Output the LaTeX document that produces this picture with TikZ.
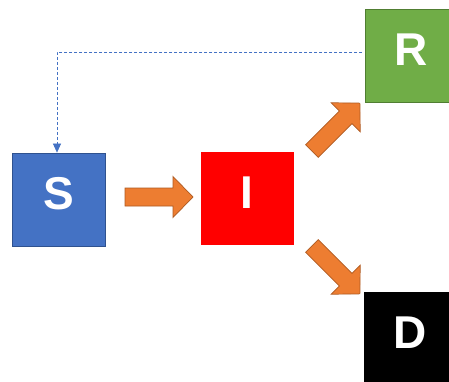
\documentclass[tikz,border=0pt]{standalone}
\usepackage{fontspec}
\setmainfont{Liberation Sans}
\usetikzlibrary{calc,arrows.meta}
\definecolor{sblue}{HTML}{4472C4}
\definecolor{sblueb}{HTML}{2F528F}
\definecolor{ired}{HTML}{FF0000}
\definecolor{rgreen}{HTML}{70AD47}
\definecolor{rgreenb}{HTML}{507E32}
\definecolor{aorange}{HTML}{ED7D31}
\definecolor{aorangeb}{HTML}{AE5A21}
\tikzset{
  box/.style={minimum width=93pt, minimum height=93pt, inner sep=0pt,
    text height=33pt, text depth=14pt, text=white,
    font=\fontsize{46}{46}\selectfont\bfseries, line width=0.8pt},
  blockarr/.style={fill=aorange, draw=aorangeb, line width=0.7pt, line join=miter},
  feedback/.style={draw=sblue, line width=0.6pt, dash pattern=on 3pt off 2pt,
    -{Triangle[width=8pt,length=9pt]}}
}
\newcommand{\blockarrow}[2]{%
  \path let \p1=($(#2)-(#1)$), \n1={atan2(\y1,\x1)}, \n2={veclen(\x1,\y1)} in
    [shift={(#1)}, rotate=\n1]
    [blockarr] (0pt,-9pt) -- ({\n2-20pt},-9pt) -- ({\n2-20pt},-20.5pt) -- (\n2,0pt)
    -- ({\n2-20pt},20.5pt) -- ({\n2-20pt},9pt) -- (0pt,9pt) -- cycle;%
}
\begin{document}
\begin{tikzpicture}[x=1pt,y=-1pt]
\clip (0,0) rectangle (449,382);
\fill[white] (0,0) rectangle (449,382);
\node[box, fill=sblue, draw=sblueb] (S) at (59,199.5) {S};
\node[box, fill=ired] (I) at (247,198.5) {I};
\node[box, fill=rgreen, draw=rgreenb] (R) at (411.5,56) {R};
\node[box, fill=black] (D) at (410.5,338.5) {D};
\coordinate (a1t) at (125,197);
\coordinate (a1h) at (193,197);
\coordinate (a2t) at (311.9,151.1);
\coordinate (a2h) at (360,103);
\coordinate (a3t) at (311.9,245.9);
\coordinate (a3h) at (360,294);
\blockarrow{a1t}{a1h}
\blockarrow{a2t}{a2h}
\blockarrow{a3t}{a3h}
\coordinate (fb) at (362,52);
\draw[feedback] (fb) -| ([xshift=-2pt]S.north);
\end{tikzpicture}
\end{document}
